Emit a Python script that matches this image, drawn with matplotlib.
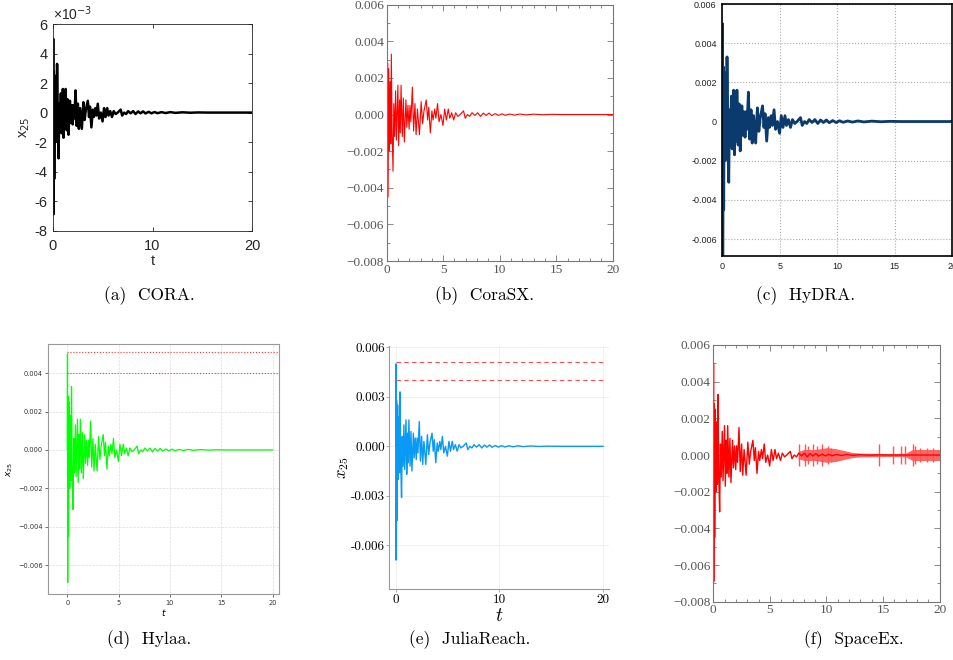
import matplotlib
matplotlib.use("Agg")
import matplotlib.pyplot as plt
import numpy as np

# ---------------- data ----------------
# extremes of the x25 trajectory (shared benchmark signal)
t_sig = [0.00, 0.02, 0.04, 0.08, 0.12, 0.18, 0.24, 0.30, 0.36, 0.41, 0.48, 0.56,
         0.63, 0.70, 0.79, 0.86, 0.99, 1.06, 1.14, 1.20, 1.27, 1.38, 1.47, 1.56,
         1.70, 1.78, 1.88, 1.98, 2.06, 2.14, 2.27, 2.38, 2.50, 2.60, 2.72, 2.90,
         3.05, 3.18, 3.30, 3.50, 3.62, 3.72, 3.86, 4.00, 4.10, 4.25, 4.35, 4.50,
         4.63, 4.80, 4.98, 5.13, 5.28, 5.45, 5.58, 5.75, 5.93, 6.10, 6.30, 6.50,
         6.80, 6.95, 7.15, 7.35, 7.55, 7.80, 8.05, 8.30, 8.55, 8.80, 9.05, 9.30,
         9.60, 9.90, 10.2, 10.5, 10.9, 11.3, 11.8, 12.3, 13.0, 13.8, 14.6, 15.5, 20.0]
x_sig = [0.0, 0.0050, -0.0069, 0.0028, -0.0045, 0.0025, -0.0020, 0.0018, -0.0016,
         0.0033, -0.0010, -0.0031, 0.0006, -0.0012, 0.0013, -0.0014, 0.0016,
         -0.0017, 0.0008, -0.0010, 0.0016, -0.0012, 0.0009, -0.0015, 0.0008,
         -0.0007, 0.0005, -0.0008, 0.0005, -0.0004, 0.0015, -0.0009, 0.0006,
         -0.0011, 0.0003, -0.0011, 0.0007, -0.0005, 0.0002, 0.0008, -0.0003,
         0.0004, -0.0010, 0.0002, -0.0003, 0.0003, -0.0002, 0.0006, -0.0004,
         0.0000, -0.0006, 0.0003, -0.0003, 0.0003, -0.0002, 0.0001, -0.0003,
         0.0001, -0.0001, 0.0000, 0.0002, -0.0002, 0.0000, -0.0001, 0.0001,
         -0.00005, 0.0001, -0.0001, 0.00008, -0.00005, 0.00008, -0.00006,
         0.00005, -0.00005, 0.00004, -0.00004, 0.00003, -0.00003, 0.00003,
         -0.00002, 0.00002, -0.00001, 0.00001, 0.0, 0.0]

# safety bounds drawn in Hylaa / JuliaReach
bounds = [0.0051, 0.0040]

# SpaceEx spurious band after t = 7.5
spx_env_t = [7.5, 8.0, 9.0, 10.0, 10.8, 11.5, 12.2, 13.0, 14.0, 15.0, 16.0, 17.0, 17.6, 18.0, 19.0, 20.0]
spx_env_hi = [0.0002, 0.0003, 0.0003, 0.0004, 0.00035, 0.00025, 0.00015, 0.0001,
              0.0001, 0.00008, 0.00008, 0.0001, 0.0003, 0.0003, 0.0003, 0.0003]
spx_env_lo = [-0.0002, -0.0003, -0.0003, -0.0004, -0.00035, -0.00025, -0.00015, -0.0001,
              -0.0001, -0.00008, -0.00008, -0.0001, -0.0003, -0.0003, -0.0003, -0.0003]
spx_spike_t = [7.6, 8.1, 8.4, 8.8, 9.2, 9.6, 10.1, 10.4, 14.66, 15.85, 16.55, 16.94,
               17.6, 17.8, 18.3, 18.9, 19.4]
spx_spike_hi = [0.0006, 0.0006, 0.0005, 0.0006, 0.0005, 0.0006, 0.0005, 0.0004,
                0.0006, 0.0005, 0.0005, 0.0005, 0.0006, 0.0005, 0.0004, 0.0004, 0.0004]
spx_spike_lo = [-0.0006, -0.0006, -0.0005, -0.0006, -0.0005, -0.0006, -0.0005, -0.0004,
                -0.0006, -0.0005, -0.0005, -0.0005, -0.0006, -0.0005, -0.0004, -0.0004, -0.0004]

# tick labels
cora_yticks = [-8, -6, -4, -2, 0, 2, 4, 6]
cora_xticks = [0, 10, 20]
gp_yticks = [-0.008, -0.006, -0.004, -0.002, 0.0, 0.002, 0.004, 0.006]
gp_ylabels = ["\u22120.008", "\u22120.006", "\u22120.004", "\u22120.002", "0.000", "0.002", "0.004", "0.006"]
x5_ticks = [0, 5, 10, 15, 20]
hydra_yticks = [-0.006, -0.004, -0.002, 0.0, 0.002, 0.004, 0.006]
hydra_ylabels = ["-0.006", "-0.004", "-0.002", "0", "0.002", "0.004", "0.006"]
hylaa_yticks = [-0.006, -0.004, -0.002, 0.0, 0.002, 0.004]
hylaa_ylabels = ["\u22120.006", "\u22120.004", "\u22120.002", "0.000", "0.002", "0.004"]
jr_yticks = [-0.006, -0.003, 0.0, 0.003, 0.006]
jr_ylabels = ["-0.006", "-0.003", "0.000", "0.003", "0.006"]
jr_xticks = [0, 10, 20]

captions = ["(a)  CORA.", "(b)  CoraSX.", "(c)  HyDRA.", "(d)  Hylaa.", "(e)  JuliaReach.", "(f)  SpaceEx."]

# ---------------- layout ----------------
W, H = 954, 660
fig = plt.figure(figsize=(W / 100, H / 100), dpi=100)


def box(l, r, t, b):
    return fig.add_axes([l / W, 1 - b / H, (r - l) / W, (b - t) / H])


t_arr = np.array(t_sig)
x_arr = np.array(x_sig)

# (a) CORA -------------------------------------------------------
ax = box(53, 252, 24, 230.7)
ax.plot(t_arr, x_arr * 1e3, color="black", lw=1.8)
ax.set_xlim(0, 20)
ax.set_ylim(-8, 6)
ax.set_yticks(cora_yticks)
ax.set_xticks(cora_xticks)
ax.set_yticklabels([str(v) for v in cora_yticks], family="Liberation Sans", fontsize=10.5)
ax.set_xticklabels([str(v) for v in cora_xticks], family="Liberation Sans", fontsize=10.5)
ax.tick_params(direction="in", top=True, right=True, length=3, width=0.6, colors="#262626")
ax.tick_params(axis="x", pad=6)
ax.tick_params(axis="y", pad=4)
for s in ax.spines.values():
    s.set_linewidth(0.6)
    s.set_color("#262626")
ax.set_xlabel("t", family="Liberation Sans", fontsize=10.5, labelpad=1, color="#262626")
ax.set_ylabel("x$_{25}$", family="Liberation Sans", fontsize=10.5, labelpad=2, color="#262626",
              math_fontfamily="dejavusans")
ax.text(0.0, 1.005, "\u00d710$^{-3}$", transform=ax.transAxes, ha="left", va="bottom",
        family="Liberation Sans", fontsize=10, color="#262626", math_fontfamily="dejavusans")


def gnuplot_style(ax, yt, yl, ylim):
    ax.set_xlim(0, 20)
    ax.set_ylim(*ylim)
    ax.set_yticks(yt)
    ax.set_yticklabels(yl, family="Liberation Serif", fontsize=9.5, color="#555555")
    ax.set_xticks(x5_ticks)
    ax.set_xticklabels([str(v) for v in x5_ticks], family="Liberation Serif", fontsize=9.5, color="#555555")
    ax.set_yticks(np.arange(-0.008, 0.0061, 0.001), minor=True)
    ax.set_xticks(np.arange(0, 20.1, 1), minor=True)
    ax.tick_params(which="both", direction="in", top=True, right=True, color="#777777", width=0.6)
    ax.tick_params(which="major", length=4, pad=2)
    ax.tick_params(which="minor", length=2)
    for s in ax.spines.values():
        s.set_linewidth(0.8)
        s.set_color("#777777")


# (b) CoraSX -----------------------------------------------------
ax = box(386.7, 612.7, 4.7, 261)
ax.plot(t_arr, x_arr, color="#ff0000", lw=0.8)
gnuplot_style(ax, gp_yticks, gp_ylabels, (-0.008, 0.006))

# (c) HyDRA ------------------------------------------------------
ax = box(722.3, 952.3, 4, 256.3)
ax.plot(t_arr, x_arr, color="#0b3a6e", lw=2.0)
ax.set_xlim(0, 20)
ax.set_ylim(-0.00688, 0.006)
ax.set_yticks(hydra_yticks)
ax.set_yticklabels(hydra_ylabels, family="Liberation Sans", fontsize=6.5, color="#222222")
ax.set_xticks(x5_ticks)
ax.set_xticklabels([str(v) for v in x5_ticks], family="Liberation Sans", fontsize=6.5, color="#222222")
ax.grid(True, ls=":", color="#aaaaaa", lw=0.8)
ax.tick_params(direction="in", length=0, pad=4)
for s in ax.spines.values():
    s.set_linewidth(1.2)
    s.set_color("black")

# (d) Hylaa ------------------------------------------------------
ax = box(48.3, 279.3, 344.3, 594)
ax.plot(t_arr, x_arr, color="#00ff00", lw=0.9)
for b in bounds:
    ax.plot([0, 21], [b, b], color="#ff3333", ls=":", lw=0.8)
ax.set_xlim(-1.85, 20.65)
ax.set_ylim(-0.0075, 0.0055)
ax.set_yticks(hylaa_yticks)
ax.set_yticklabels(hylaa_ylabels, family="DejaVu Sans", fontsize=4.8, color="#333333")
ax.set_xticks(x5_ticks)
ax.set_xticklabels([str(v) for v in x5_ticks], family="DejaVu Sans", fontsize=4.8, color="#333333")
ax.grid(True, ls="--", color="#dddddd", lw=0.5)
ax.tick_params(length=2, width=0.5, pad=2, colors="#333333")
for s in ax.spines.values():
    s.set_linewidth(0.8)
    s.set_color("#999999")
ax.set_xlabel("$t$", fontsize=6.5, labelpad=1)
ax.set_ylabel("$x_{25}$", fontsize=6.5, labelpad=2)

# (e) JuliaReach -------------------------------------------------
ax = box(389, 609.3, 345.7, 589.3)
ax.plot(t_arr, x_arr, color="#0a99f5", lw=1.0)
for b in bounds:
    ax.plot([0, 20], [b, b], color="#f05050", ls=(0, (4, 3)), lw=0.8)
ax.set_xlim(-0.65, 20.6)
ax.set_ylim(-0.00867, 0.0061)
ax.set_yticks(jr_yticks)
ax.set_yticklabels(jr_ylabels, family="cmr10", fontsize=9.5, color="black")
ax.set_xticks(jr_xticks)
ax.set_xticklabels([str(v) for v in jr_xticks], family="cmr10", fontsize=9.5, color="black")
ax.grid(True, color="#eeeeee", lw=0.6)
ax.tick_params(length=2, width=0.5, pad=1, color="#888888")
for k in ("top", "right"):
    ax.spines[k].set_visible(False)
for k in ("left", "bottom"):
    ax.spines[k].set_color("#999999")
    ax.spines[k].set_linewidth(0.8)
ax.set_xlabel("$t$", fontsize=14, labelpad=0, math_fontfamily="cm")
ax.set_ylabel("$x_{25}$", fontsize=12, labelpad=0, math_fontfamily="cm")

# (f) SpaceEx ----------------------------------------------------
ax = box(713.3, 939.7, 345, 601.7)
ax.fill_between(spx_env_t, spx_env_lo, spx_env_hi, color="#ff0000", alpha=0.6, lw=0)
ax.vlines(spx_spike_t, spx_spike_lo, spx_spike_hi, color="#ff5555", lw=1.0)
ax.plot(t_arr, x_arr, color="#ff0000", lw=1.0)
gnuplot_style(ax, gp_yticks, gp_ylabels, (-0.008, 0.006))

# captions ------------------------------------------------------
cap_xy = [(149, 296), (485, 296), (806, 296), (149, 640), (470, 640), (854, 640)]
for (cx, cy), c in zip(cap_xy, captions):
    fig.text(cx / W, 1 - cy / H, c, ha="center", va="center", family="cmr10", fontsize=12.5)

fig.savefig("out.png", dpi=100)
